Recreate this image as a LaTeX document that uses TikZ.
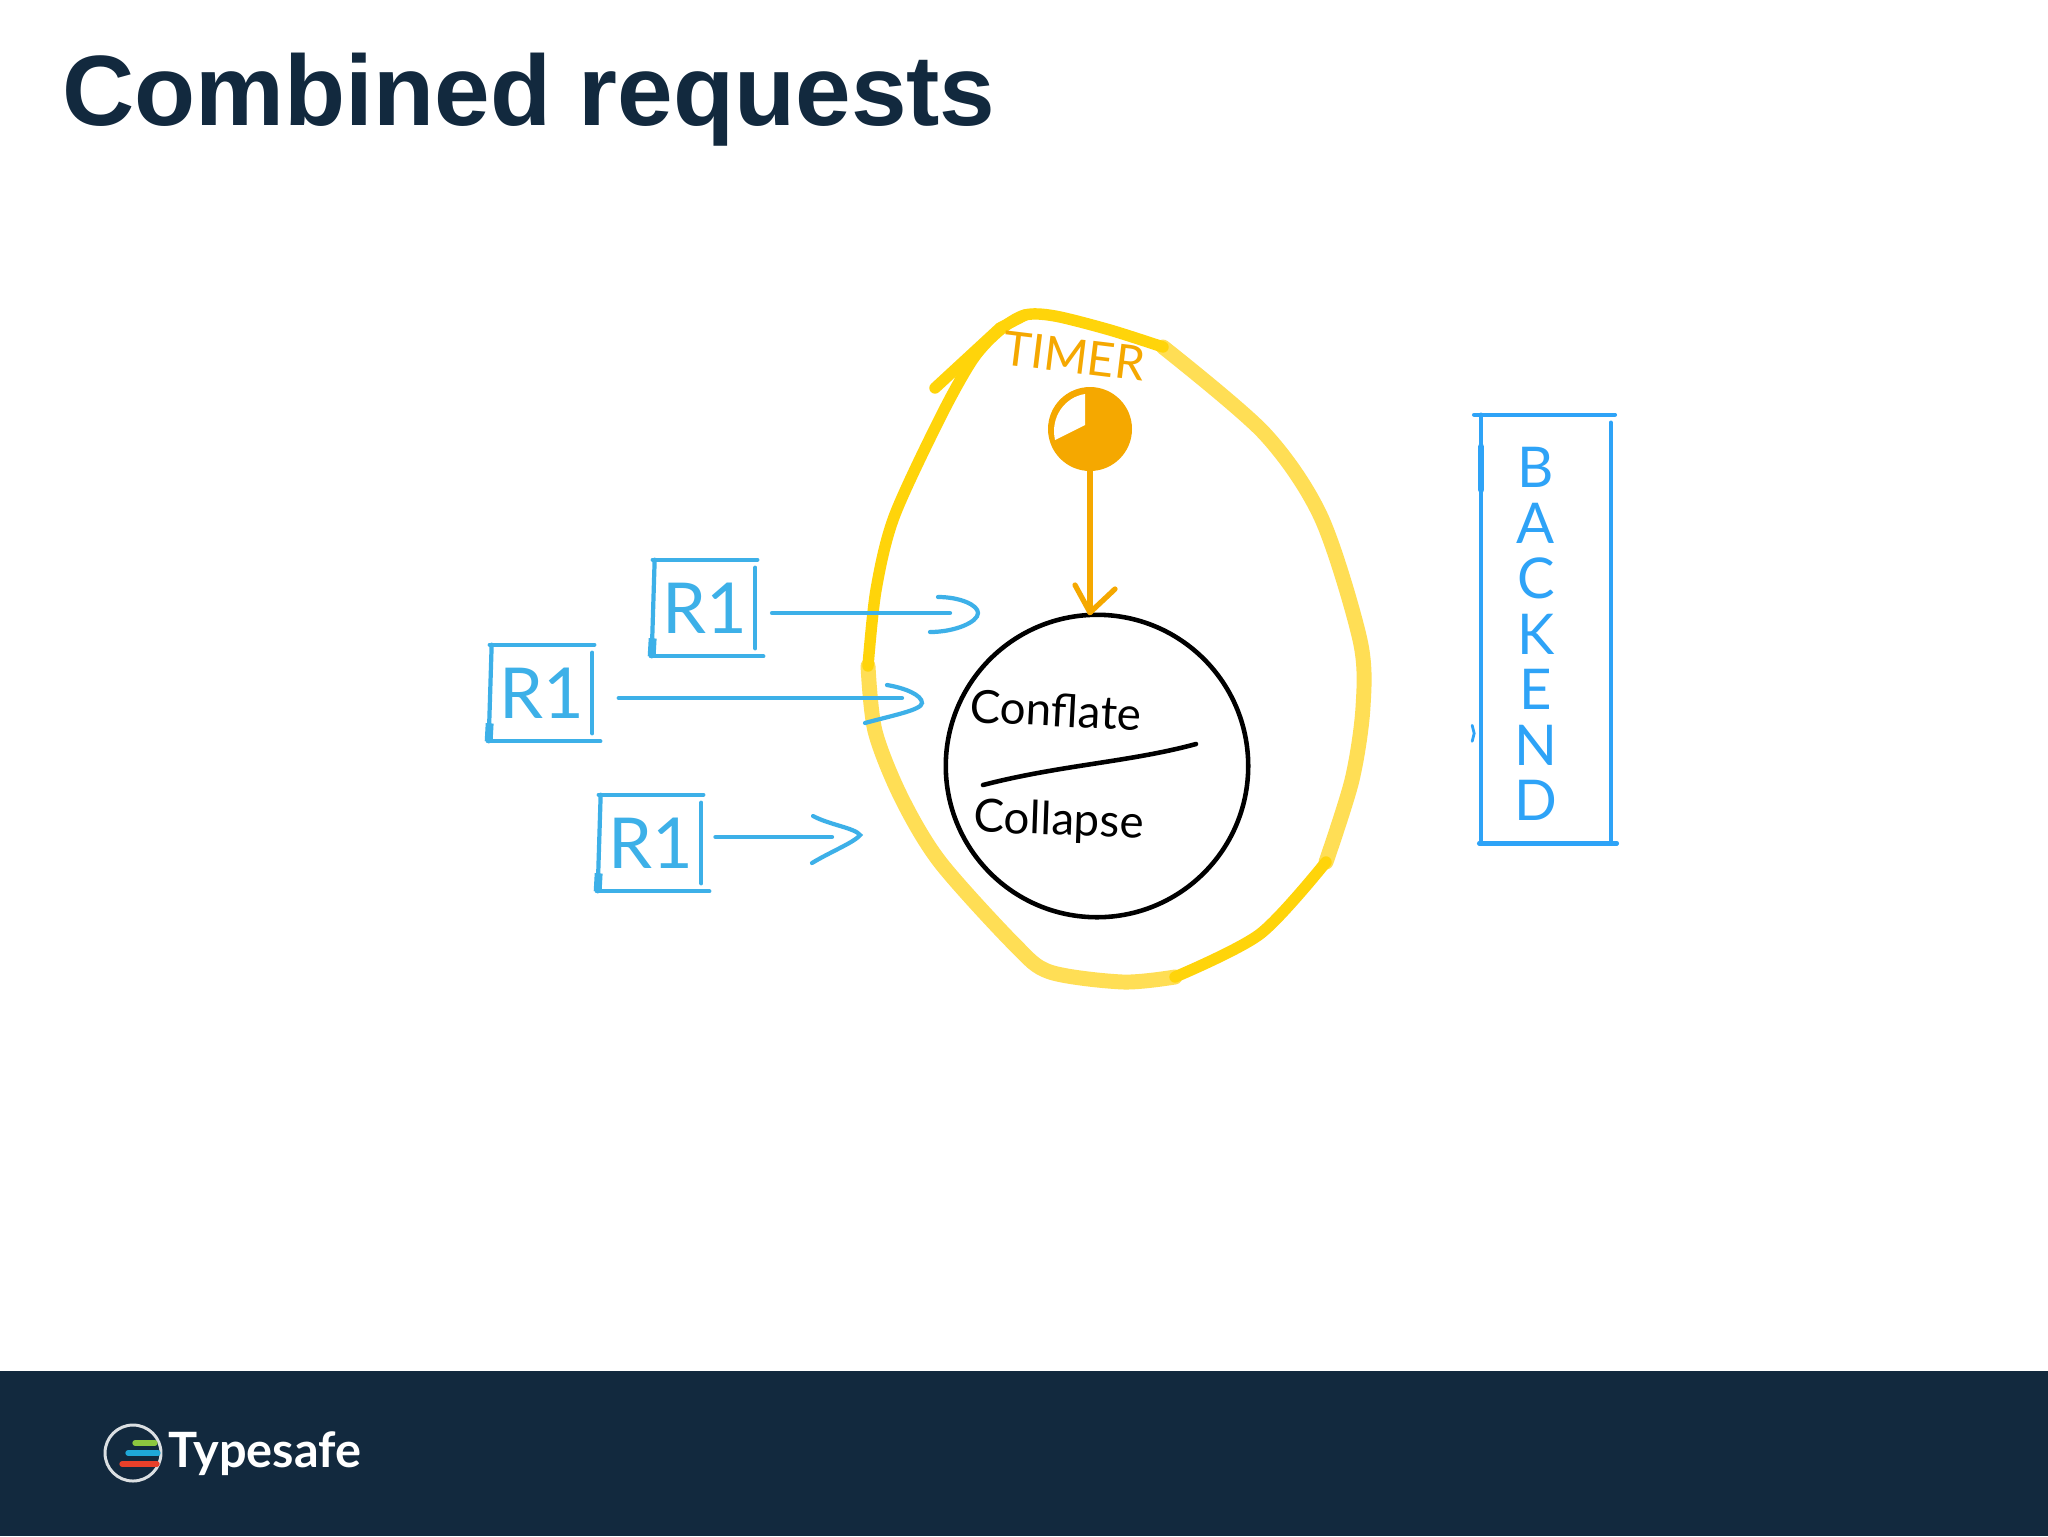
\documentclass[tikz,border=0pt]{standalone}
\usepackage{fontspec}
\setmainfont{Liberation Sans}
\newfontfamily\handfont{Lato}
\definecolor{mynavy}{RGB}{18,41,62}
\definecolor{myblue}{RGB}{61,176,232}
\definecolor{mybackblue}{RGB}{46,163,247}
\definecolor{myorange}{RGB}{245,168,0}
\definecolor{mypale}{RGB}{255,222,85}
\definecolor{mygold}{RGB}{255,212,10}
\definecolor{mygreen}{RGB}{140,198,63}
\definecolor{mycyan}{RGB}{31,168,216}
\definecolor{myred}{RGB}{232,64,42}
\usetikzlibrary{calc}
\tikzstyle{reqbox}=[minimum width=2cm,minimum height=1.92cm,inner sep=0pt,text=myblue,font=\handfont\fontsize{40}{40}\selectfont]
\tikzstyle{reqline}=[draw=myblue,line width=2.4pt,line cap=round]
\tikzstyle{backline}=[draw=mybackblue,line width=2.5pt,line cap=round]
\tikzstyle{timerline}=[draw=myorange,line width=3pt,line cap=round,line join=round]
\tikzstyle{penline}=[draw=black,line width=2.6pt,line cap=round]
\tikzstyle{penlabel}=[inner sep=0pt,font=\handfont\fontsize{26}{26}\selectfont]
\tikzstyle{paleloop}=[draw=mypale,line width=8.5pt,line cap=round]
\tikzstyle{goldloop}=[draw=mygold,line width=6.5pt,line cap=round]
\begin{document}
\begin{tikzpicture}[x=0.02cm,y=-0.02cm]
\useasboundingbox (0,0) rectangle (2048,1536);
\fill[white] (0,0) rectangle (2048,1536);
\fill[mynavy] (0,1371) rectangle (2048,1536);
\node [anchor=base west,inner sep=0pt,text=mynavy,font=\bfseries\fontsize{56.9}{60}\selectfont] (title) at (62,125) {Combined requests};

% yellow loop
\draw[paleloop] plot [smooth] coordinates {(1163,347) (1264,433) (1321,517) (1360,640) (1363,707) (1352,780) (1326,862)};
\draw[paleloop] plot [smooth] coordinates {(1175,977) (1123,982) (1050,972) (1015,945) (940,862) (901,797) (875,731) (868,666)};
\draw[goldloop] plot [smooth] coordinates {(868,666) (876,590) (894,517) (940,418) (973,359) (1000,330) (1025,315) (1055,316) (1110,330) (1163,347)};
\draw[goldloop] plot [smooth] coordinates {(1326,862) (1260,934) (1175,977)};
\draw[goldloop] (935,388) -- (1000,328) -- (1025,315);

% timer
\node [circle,fill=myorange,minimum size=1.68cm,inner sep=0pt] (timer) at (1090,429) {};
\fill[white] (1085,425) -- (1085,394) .. controls (1065,397) and (1050,417) .. (1055,440) -- cycle;
\node [penlabel,text=myorange,rotate=-7,font=\handfont\fontsize{27}{27}\selectfont] (timerlabel) at (1074,356) {TIMER};

% conflate and collapse
\node [circle,draw=black,line width=2.6pt,minimum size=6.05cm,inner sep=0pt] (merge) at (1097,766) {};
\node [penlabel,rotate=-3] (conflate) at (1056,710) {Conflate};
\node [penlabel,rotate=-2] (collapse) at (1059,822) {Collapse};
\coordinate (divl) at (983,785);
\coordinate (divr) at (1196,744);
\draw[penline] (divl) .. controls (1060,765) and (1130,762) .. (divr);

\draw[timerline] (timer) -- (merge.north -| timer);
\draw[timerline] (1075,585) -- (merge.north -| timer) -- (1115,589);

% requests
\node [reqbox] (r1) at (705,608) {R1};
\node [reqbox] (r2) at (542,693) {R1};
\node [reqbox] (r3) at (651,843) {R1};
\foreach \n in {r1,r2,r3} {
	\draw[reqline] ($(\n.north west)+(-2,0)$) -- ($(\n.north east)+(2,0)$);
	\draw[reqline] (\n.north west) -- ($(\n.south west)+(-3,0)$);
	\draw[reqline] ($(\n.south west)+(-4,0)$) -- ($(\n.south east)+(8,0)$);
	\draw[reqline] ($(\n.north east)+(0,8)$) -- ($(\n.south east)+(0,-8)$);
	\draw[draw=myblue,line width=4.5pt] ($(\n.south west)+(-3,0)$) -- ($(\n.south west)+(-2,-18)$);
}
\coordinate (e1) at (950,613);
\coordinate (e2) at (902,698);
\coordinate (e3) at (832,837);
\foreach \n/\g in {1/9.5pt,2/15pt,3/8pt} {
	\draw[reqline,shorten <=\g] (r\n.east |- e\n) -- (e\n);
}
\draw[reqline] (938,597) .. controls (960,597) and (978,605) .. (978,613) .. controls (978,622) and (955,632) .. (930,632);
\draw[reqline] (887,685) .. controls (905,688) and (922,695) .. (922,703) .. controls (922,710) and (890,716) .. (865,723);
\draw[reqline] (813,816) .. controls (830,825) and (855,828) .. (860,835) .. controls (855,842) and (830,852) .. (812,863);

% backend
\node [minimum width=2.58cm,minimum height=8.56cm,inner sep=0pt] (backend) at (1546,629) {};
\draw[backline] ($(backend.north west)+(-7,0)$) -- ($(backend.north east)+(4,0)$);
\draw[backline] ($(backend.south west)+(-2,0)$) -- ($(backend.south east)+(6,0)$);
\draw[backline] (backend.north west) -- (backend.south west);
\draw[backline] ($(backend.north east)+(0,8)$) -- ($(backend.south east)+(0,-3)$);
\draw[backline,line width=3.6pt] ($(backend.north west)+(0,32)$) -- ($(backend.north west)+(0,75)$);
\draw[backline,line width=1.6pt] ($(backend.south west)+(-9,-118)$) -- ($(backend.south west)+(-7,-110)$) -- ($(backend.south west)+(-9,-102)$);
\node [inner sep=0pt,align=center,text=mybackblue,font=\handfont\fontsize{32}{31.6}\selectfont] (backendlabel) at (1536,634) {B\\A\\C\\K\\E\\N\\D};

% logo
\node [circle,draw=white!85!mynavy,line width=1.7pt,minimum size=1.12cm,inner sep=0pt] (logo) at (133,1453) {};
\draw[draw=mygreen,line width=3pt,line cap=round] (135,1443) -- (155,1443);
\draw[draw=mycyan,line width=3pt,line cap=round] (128,1453) -- (158,1453);
\draw[draw=myred,line width=3pt,line cap=round] (122,1464) -- (157,1464);
\node [anchor=base west,inner sep=0pt,text=white,font=\handfont\bfseries\fontsize{27.7}{28}\selectfont] (brand) at (168,1467) {Typesafe};
\end{tikzpicture}
\end{document}
